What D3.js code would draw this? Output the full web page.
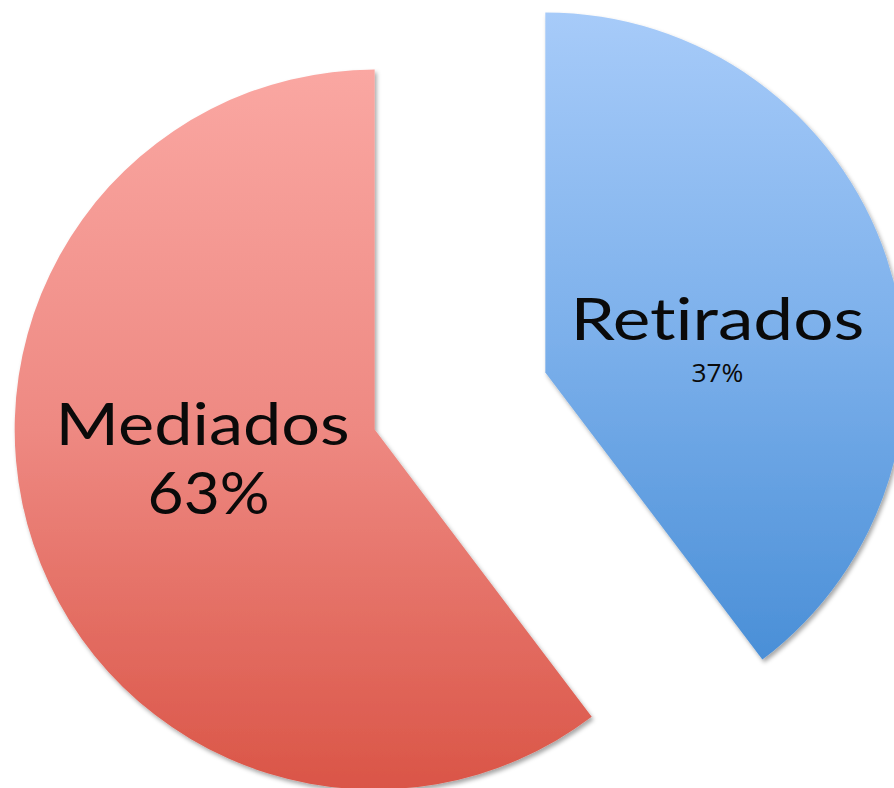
<!DOCTYPE html>
<html>
<head>
<meta charset="utf-8">
<script src="https://cdn.jsdelivr.net/npm/d3@7"></script>
<style>
  html, body { margin: 0; padding: 0; background: #ffffff; }
  svg { display: block; }
  text { font-variant-ligatures: none; font-feature-settings: "liga" 0, "clig" 0; }
</style>
</head>
<body>
<svg id="chart" width="894" height="788"></svg>
<script>
// ---- data ----
const categories = ["Retirados", "Mediados"];
const percentLabels = ["37%", "63%"];
// share of the circle each slice covers, as drawn in the picture
const sliceValues = [39.7, 60.3];

// ---- styling ----
const W = 894, H = 788;
const cx = 460, cy = 401, R = 360, explode = 90;
const gradients = [
  { top: "#a7cbf9", mid: "#7cb0eb", bottom: "#4a8fd7" },
  { top: "#faa7a2", mid: "#ee8982", bottom: "#da5547" }
];
const labelStyle = [
  { nameSize: 58, pctSize: 26, pctFont: "'Open Sans', sans-serif", nameDy: 0, pctDy: 42, nameLen: 294, pctLen: 52 },
  { nameSize: 58, pctSize: 58, pctFont: "Lato, sans-serif", nameDy: -17, pctDy: 52, nameLen: 294, pctLen: 122 }
];

const data = categories.map((c, i) => ({ name: c, pct: percentLabels[i], value: sliceValues[i], i }));

const svg = d3.select("#chart");
const defs = svg.append("defs");

const shadow = defs.append("filter").attr("id", "shadow")
  .attr("x", "-10%").attr("y", "-10%").attr("width", "130%").attr("height", "130%");
shadow.append("feDropShadow").attr("dx", 2).attr("dy", 3)
  .attr("stdDeviation", 2).attr("flood-color", "#000").attr("flood-opacity", 0.35);

gradients.forEach((g, i) => {
  const lg = defs.append("linearGradient").attr("id", "grad" + i)
    .attr("x1", 0).attr("y1", 0).attr("x2", 0).attr("y2", 1);
  lg.append("stop").attr("offset", "0%").attr("stop-color", g.top);
  lg.append("stop").attr("offset", "50%").attr("stop-color", g.mid);
  lg.append("stop").attr("offset", "100%").attr("stop-color", g.bottom);
});

const pie = d3.pie().sort(null).value(d => d.value).startAngle(0).endAngle(2 * Math.PI);
const arcs = pie(data);
const arc = d3.arc().innerRadius(0).outerRadius(R);
const labelShift = 8 * Math.PI / 180;
const labelArc = d3.arc().innerRadius(175).outerRadius(175);

const g = svg.append("g").attr("transform", `translate(${cx},${cy})`);

const slices = g.selectAll("g.slice").data(arcs).join("g")
  .attr("class", "slice")
  .attr("transform", d => {
    const a = (d.startAngle + d.endAngle) / 2;
    return `translate(${Math.sin(a) * explode},${-Math.cos(a) * explode})`;
  });

slices.append("path")
  .attr("d", arc)
  .attr("fill", d => `url(#grad${d.data.i})`)
  .attr("filter", "url(#shadow)");

slices.each(function(d) {
  const s = labelStyle[d.data.i];
  const [lx, ly] = labelArc.centroid({ startAngle: d.startAngle + labelShift, endAngle: d.endAngle + labelShift });
  const sel = d3.select(this);
  sel.append("text")
    .attr("x", lx).attr("y", ly + s.nameDy)
    .attr("text-anchor", "middle")
    .attr("font-family", "Lato, sans-serif")
    .attr("font-size", s.nameSize)
    .attr("textLength", s.nameLen)
    .attr("lengthAdjust", "spacingAndGlyphs")
    .attr("fill", "#0a0a0a")
    .text(d.data.name);
  sel.append("text")
    .attr("x", lx + (d.data.i === 1 ? 6 : 0)).attr("y", ly + s.pctDy)
    .attr("text-anchor", "middle")
    .attr("font-family", s.pctFont)
    .attr("font-size", s.pctSize)
    .attr("textLength", s.pctLen)
    .attr("lengthAdjust", "spacingAndGlyphs")
    .attr("fill", "#0a0a0a")
    .text(d.data.pct);
});
</script>
</body>
</html>
